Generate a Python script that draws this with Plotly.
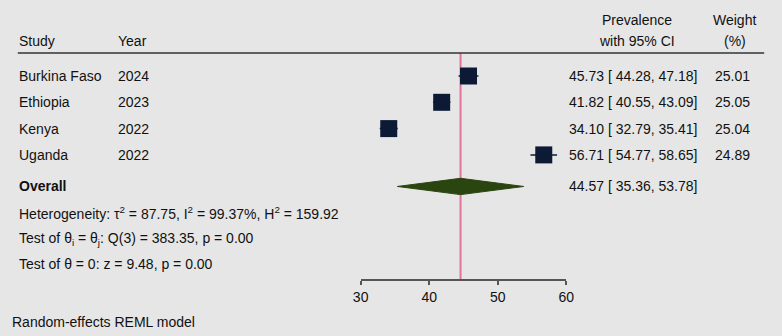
import plotly.graph_objects as go

# ---- data ----
studies = ["Burkina Faso", "Ethiopia", "Kenya", "Uganda"]
years = ["2024", "2023", "2022", "2022"]
est = [45.73, 41.82, 34.10, 56.71]
lower = [44.28, 40.55, 32.79, 54.77]
upper = [47.18, 43.09, 35.41, 58.65]
weights = [25.01, 25.05, 25.04, 24.89]
overall = [44.57, 35.36, 53.78]  # estimate, lower, upper
tick_vals = [30, 40, 50, 60]
het_text = "Heterogeneity: τ<sup>2</sup> = 87.75, I<sup>2</sup> = 99.37%, H<sup>2</sup> = 159.92"
test1_text = "Test of θ<sub>i</sub> = θ<sub>j</sub>: Q(3) = 383.35, p = 0.00"
test2_text = "Test of θ = 0: z = 9.48, p = 0.00"
model_text = "Random-effects REML model"

# ---- layout helpers (row positions) ----
rows = [1, 2, 3, 4]
y_overall = 5.2
y_het, y_t1, y_t2 = 6.22, 7.18, 8.15
y_hdr1, y_hdr2 = -1.13, -0.33
y_line = 0.13
y_axis = 8.76
y_model = 10.35

W, H = 782, 336
FONT = "Liberation Sans, Arial, sans-serif"
BG = "#e6e6e6"
NAVY = "#0c1a36"
GREEN = "#2b4510"
PINK = "#e2739a"

def px(x):
    return x / W

fig = go.Figure()

# reference line at overall estimate
fig.add_trace(go.Scatter(x=[overall[0], overall[0]], y=[y_line, y_axis], mode="lines",
                         line=dict(color=PINK, width=2), hoverinfo="skip", showlegend=False))

# study squares with CI whiskers
fig.add_trace(go.Scatter(
    x=est, y=rows, mode="markers",
    marker=dict(symbol="square", size=17, color=NAVY, line=dict(width=0)),
    error_x=dict(type="data", symmetric=False,
                 array=[u - e for u, e in zip(upper, est)],
                 arrayminus=[e - l for e, l in zip(est, lower)],
                 color=NAVY, thickness=1.5, width=0),
    showlegend=False, cliponaxis=False))

# overall diamond
h = 0.31
fig.add_trace(go.Scatter(
    x=[overall[1], overall[0], overall[2], overall[0], overall[1]],
    y=[y_overall, y_overall - h, y_overall, y_overall + h, y_overall],
    mode="lines", fill="toself", fillcolor=GREEN, line=dict(color=GREEN, width=1),
    showlegend=False, hoverinfo="skip"))

ann = []
def add(text, x, y, anchor="left", size=14, bold=False):
    if bold:
        text = "<b>" + text + "</b>"
    ann.append(dict(text=text, x=px(x), xref="paper", y=y, yref="y",
                    xanchor=anchor, yanchor="middle", showarrow=False,
                    font=dict(family=FONT, size=size, color="#111111")))

add("Study", 9, y_hdr2)
add("Year", 110, y_hdr2)
add("Prevalence", 642, y_hdr1, "center")
add("with 95% CI", 642, y_hdr2, "center")
add("Weight", 742, y_hdr1, "center")
add("(%)", 742, y_hdr2, "center")

for r, s, yr, e, lo, hi, w in zip(rows, studies, years, est, lower, upper, weights):
    add(s, 9, r)
    add(yr, 110, r)
    add(f"{e:.2f} [ {lo:.2f}, {hi:.2f}]", 571, r)
    add(f"{w:.2f}", 720, r)

add("Overall", 9, y_overall, bold=True)
add(f"{overall[0]:.2f} [ {overall[1]:.2f}, {overall[2]:.2f}]", 571, y_overall)
add(het_text, 9, y_het)
add(test1_text, 9, y_t1)
add(test2_text, 9, y_t2)
add(model_text, 2, y_model)

fig.update_layout(
    width=W, height=H, margin=dict(l=0, r=0, t=0, b=0),
    paper_bgcolor=BG, plot_bgcolor=BG,
    annotations=ann,
    shapes=[dict(type="line", xref="paper", yref="y", x0=px(10), x1=px(772),
                 y0=y_line, y1=y_line, line=dict(color="#333333", width=1.5))],
    xaxis=dict(domain=[px(360), px(570)], range=[30, 60], tickvals=tick_vals,
               showline=True, linecolor="#555555", linewidth=1.5,
               ticks="outside", ticklen=4, tickwidth=1.5, tickcolor="#555555",
               showgrid=False, zeroline=False, anchor="free",
               position=1 - 280 / H,
               tickfont=dict(family=FONT, size=14, color="#111111")),
    yaxis=dict(domain=[0, 1], range=[-1.8897 + H / 26.3, -1.8897], visible=False,
               showgrid=False, zeroline=False),
    showlegend=False,
)

fig.write_html("out.html")
